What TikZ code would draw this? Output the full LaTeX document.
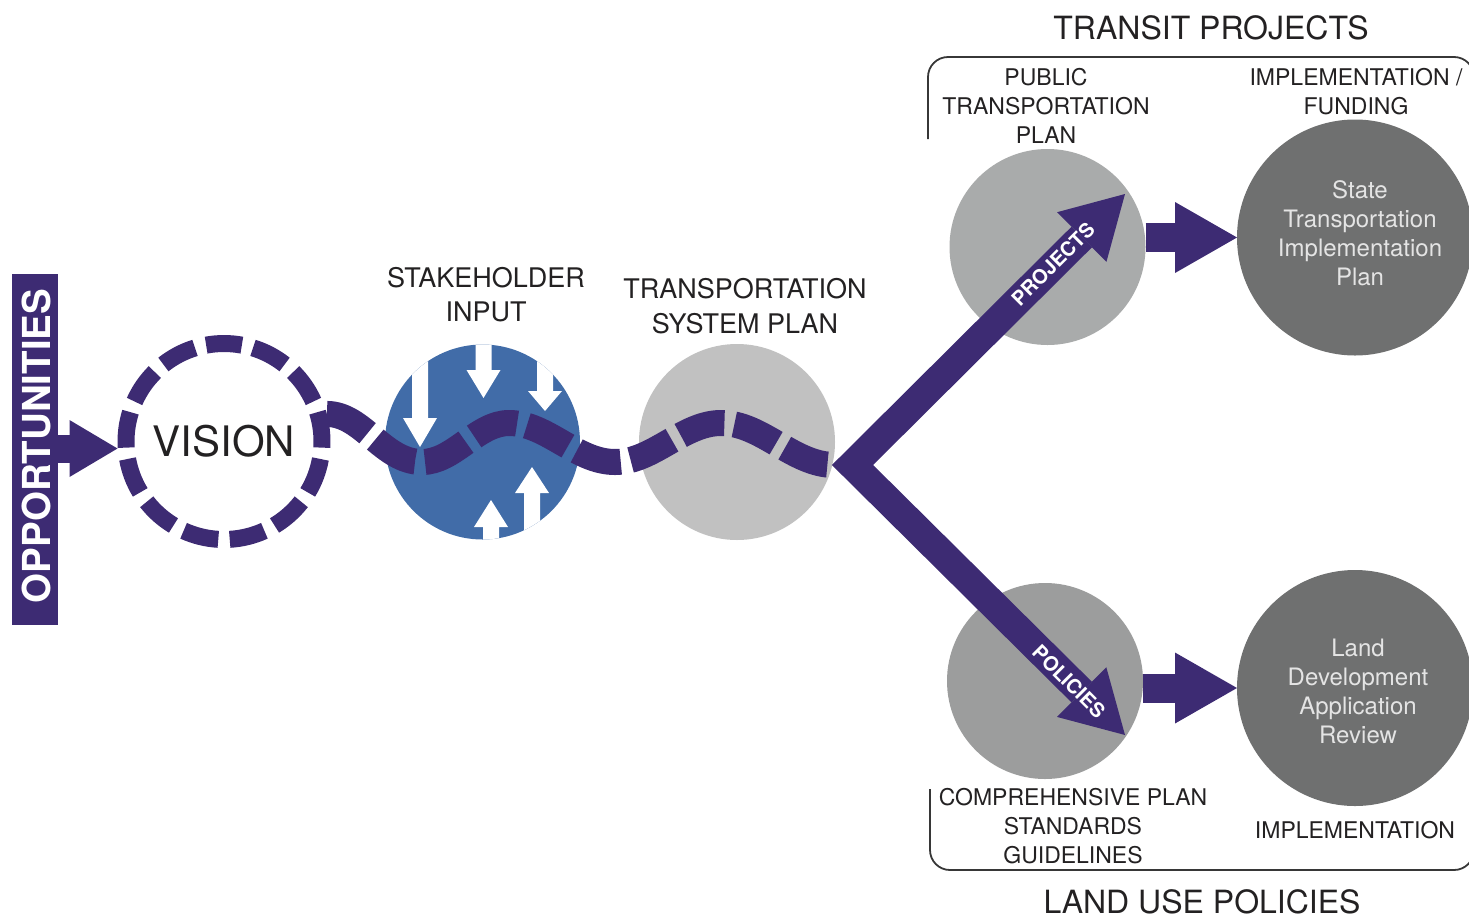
\documentclass[tikz,border=0pt]{standalone}
\usepackage{fontspec}
\setmainfont{TeX Gyre Heros}
\usetikzlibrary{arrows.meta,calc}

\definecolor{plum}{RGB}{61,43,115}
\definecolor{ink}{RGB}{35,33,34}
\definecolor{paleink}{RGB}{228,228,228}
\definecolor{frame}{RGB}{55,55,55}
\definecolor{stakeblue}{RGB}{65,108,168}
\definecolor{tspgray}{RGB}{193,193,193}
\definecolor{upgray}{RGB}{169,171,171}
\definecolor{lowgray}{RGB}{156,157,157}
\definecolor{deepgray}{RGB}{111,112,112}

\tikzset{
  disc/.style={circle, inner sep=0pt, outer sep=0pt, minimum size=#1},
  lbl/.style={align=center, inner sep=0pt, text=ink, font=\fontsize{27}{34.5}\selectfont},
  small/.style={align=center, inner sep=0pt, text=ink, font=\fontsize{23}{29}\selectfont},
  headline/.style={inner sep=0pt, text=ink, font=\fontsize{32}{38}\selectfont},
  inside/.style={align=center, inner sep=0pt, text=paleink, font=\fontsize{24}{29}\selectfont},
  armtext/.style={inner sep=0pt, text=white, font=\bfseries\fontsize{20}{20}\selectfont},
  ring/.style={draw=plum, line width=17pt},
  wave/.style={draw=plum, line width=26pt, dash pattern=on 46pt off 10pt},
  bracket/.style={draw=frame, line width=1.8pt, rounded corners=20pt},
  push/.style={draw=plum, line width=28pt,
    -{Triangle[length=48pt,width=57pt,line width=0pt]}},
  flow/.style={draw=plum, line width=29pt,
    -{Triangle[length=62pt,width=71pt,line width=0pt]}},
  split/.style={draw=plum, line width=29pt, line join=miter,
    {Triangle[length=61pt,width=70pt,line width=0pt]}-{Triangle[length=61pt,width=70pt,line width=0pt]}},
}

\begin{document}
\begin{tikzpicture}[x=1pt,y=1pt]
\useasboundingbox (0,0) rectangle (1469,-919);

% side bar
\node[fill=plum, inner sep=0pt, minimum width=46pt, minimum height=351pt] (opp) at (35,-449.5) {};
\node[rotate=90, inner sep=0pt, text=white, font=\bfseries\fontsize{38.5}{40}\selectfont] (opptext) at (36,-446) {OPPORTUNITIES};

% circles
\node[disc=213pt, text=ink, font=\fontsize{42}{42}\selectfont] (vision) at (224,-441.5) {VISION};
\node[disc=195pt, fill=stakeblue] (stake) at (482.5,-442) {};
\node[disc=196pt, fill=tspgray] (tsp) at (737,-442) {};
\node[disc=196pt, fill=upgray] (ptp) at (1047.5,-247) {};
\node[disc=196pt, fill=lowgray] (cmp) at (1045,-681) {};
\node[disc=236pt, fill=deepgray] (stip) at (1355,-237.5) {};
\node[disc=236pt, fill=deepgray] (ldev) at (1355,-688) {};

% input arrows cut into the stakeholder disc
\begin{scope}
  \clip (stake.center) circle[radius=97.5pt];
  \foreach \c/\b/\t/\e in {420/418/447/330, 483.5/370/398/330, 545/391/411/330, 532/493/467/560, 491/527/500/560}
    \fill[white] (\c-8,-\e) -- (\c-8,-\b) -- (\c-17,-\b) -- (\c,-\t) -- (\c+17,-\b) -- (\c+8,-\b) -- (\c+8,-\e) -- cycle;
\end{scope}

% dashed ring round the vision
\foreach \i in {0,...,12}{
  \pgfmathsetmacro\a{90+\i*360/13-10.5}
  \draw[ring] ([shift={(\a:98)}]vision.center) arc[start angle=\a, delta angle=21, radius=98];
}

% fork of the process path
\coordinate (fork) at (852.5,-465);
\coordinate (ptip) at (1125,-194);
\coordinate (ltip) at (1125,-735);

% dashed wave through the planning stages
\draw[wave] (vision.15)
  .. controls (363,-414) and (383,-462) .. (422,-462)
  .. controls (454,-462) and (477,-423) .. (509,-423)
  .. controls (547,-423) and (576,-462) .. (615,-462)
  .. controls (653,-462) and (683,-423) .. (721,-423)
  .. controls (762,-423) and (793,-465) .. ($(fork)+(-18,0)$);

\draw[split] (ptip) -- (fork) -- (ltip);
\node[armtext, rotate=45] (projects) at (1053,-264) {PROJECTS};
\node[armtext, rotate=-45] (policies) at (1069,-681.5) {POLICIES};

% arrows into the vision and the implementation stages
\coordinate (row) at (0,-448.5);
\draw[push] (opp.east |- row) -- (vision.west |- row);
\draw[flow] (ptp.east |- stip.west) -- (stip.west);
\draw[flow] (cmp.east |- ldev.west) -- (ldev.west);

% brackets
\draw[bracket] (928,-139) -- (928,-57) -- (1474,-57) -- (1474,-150);
\draw[bracket] (930,-789) -- (930,-870) -- (1474,-870) -- (1474,-780);

% labels
\node[lbl] (stakelbl) at (486,-294.5) {STAKEHOLDER\\INPUT};
\node[lbl] (tsplbl) at (745,-306) {TRANSPORTATION\\SYSTEM PLAN};
\node[headline] (transit) at (1211,-28) {TRANSIT PROJECTS};
\node[headline] (landuse) at (1202,-902) {LAND USE POLICIES};
\node[small] (ptplbl) at (1046,-106) {PUBLIC\\TRANSPORTATION\\PLAN};
\node[small] (funding) at (1356,-91.5) {IMPLEMENTATION /\\FUNDING};
\node[small] (cmplbl) at (1073,-826) {COMPREHENSIVE PLAN\\STANDARDS\\GUIDELINES};
\node[small] (impl) at (1355,-830) {IMPLEMENTATION};
\node[inside] (stiptext) at (1360,-233.5) {State\\Transportation\\Implementation\\Plan};
\node[inside] (ldevtext) at (1358,-691.5) {Land\\Development\\Application\\Review};
\end{tikzpicture}
\end{document}
